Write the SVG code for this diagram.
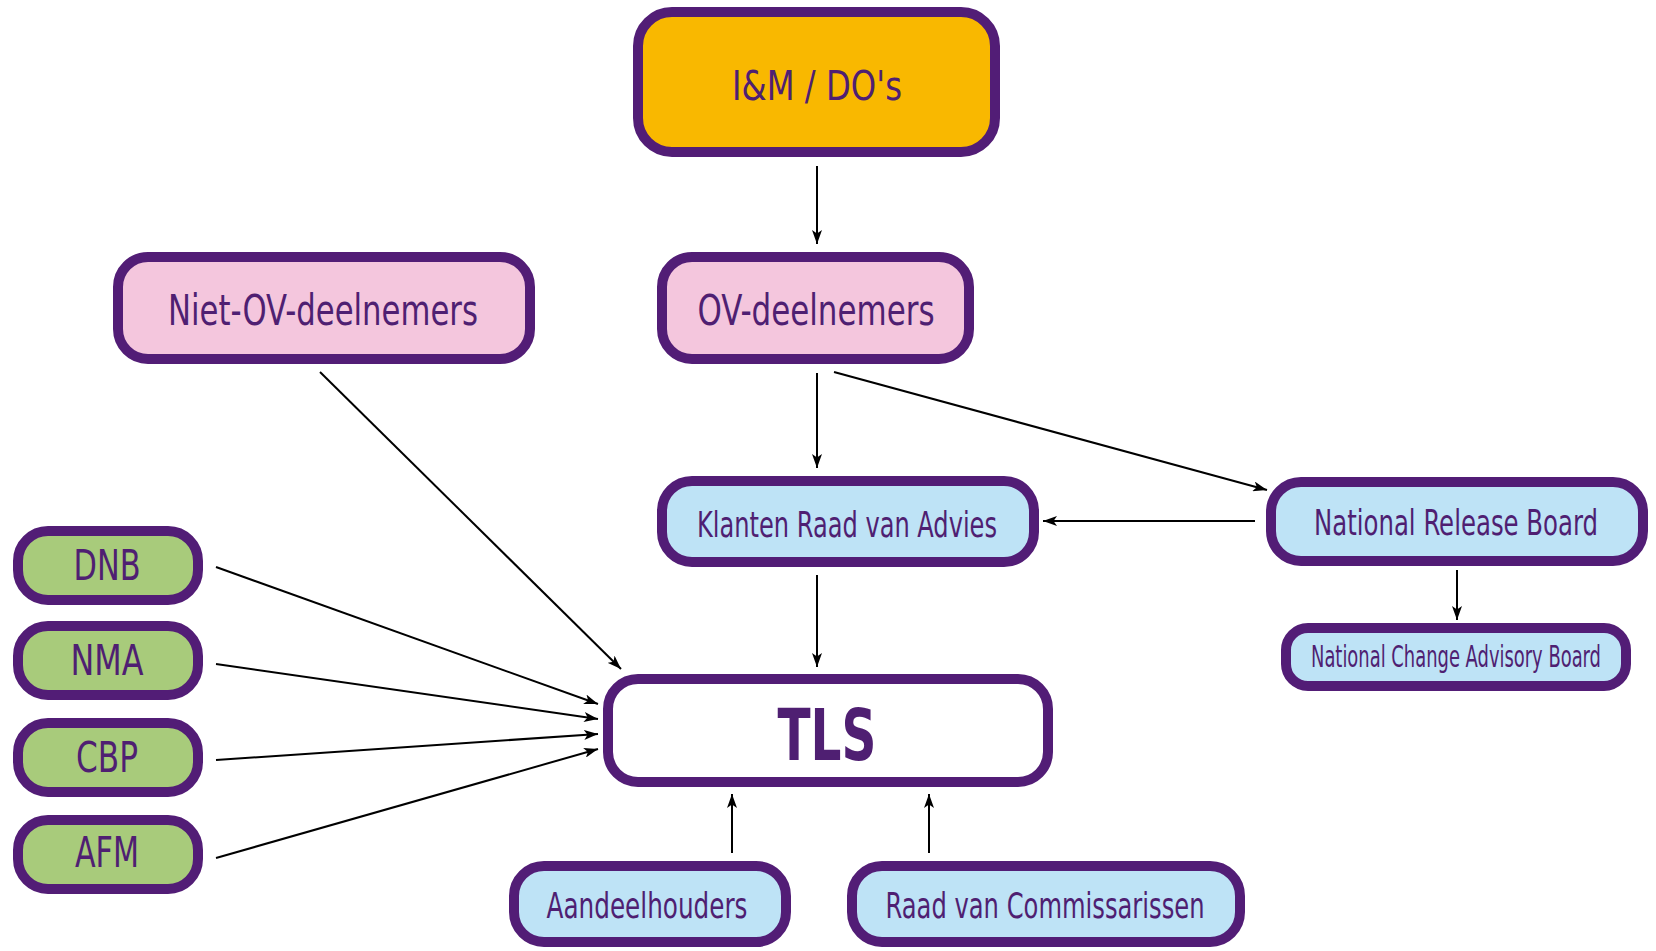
<svg xmlns="http://www.w3.org/2000/svg" width="1656" height="951" viewBox="0 0 1656 951">
<style>
.box{stroke:#521d76;stroke-width:10}
.t{font-family:"Liberation Sans Narrow","DejaVu Sans Condensed","Liberation Sans",sans-serif;fill:#4f1f72;text-anchor:middle}
.c{stroke:#000;stroke-width:2;fill:none;marker-end:url(#ah)}
</style>
<defs>
<marker id="ah" viewBox="0 0 14 10" refX="14" refY="5" markerWidth="14" markerHeight="10" markerUnits="userSpaceOnUse" orient="auto">
<path d="M0,0 L14,5 L0,10 L3.5,5 Z" fill="#000"/>
</marker>
</defs>
<rect width="1656" height="951" fill="#fff"/>
<g id="connectors">
<line class="c" x1="817" y1="166" x2="817" y2="244"/>
<line class="c" x1="817" y1="373" x2="817" y2="468"/>
<line class="c" x1="834" y1="372" x2="1267" y2="490"/>
<line class="c" x1="1255" y1="521" x2="1043" y2="521"/>
<line class="c" x1="1457" y1="570" x2="1457" y2="620"/>
<line class="c" x1="817" y1="575" x2="817" y2="667"/>
<line class="c" x1="320" y1="372" x2="621" y2="669"/>
<line class="c" x1="216" y1="567" x2="598" y2="704"/>
<line class="c" x1="216" y1="664" x2="598" y2="719"/>
<line class="c" x1="216" y1="760" x2="598" y2="734"/>
<line class="c" x1="216" y1="858" x2="598" y2="749"/>
<line class="c" x1="732" y1="853" x2="732" y2="794"/>
<line class="c" x1="929" y1="853" x2="929" y2="794"/>
</g>
<g id="n-im">
<rect class="box" x="638" y="12" width="357" height="140" rx="34" fill="#f9b800"/>
<text class="t" x="817" y="100" font-size="40" textLength="170" lengthAdjust="spacingAndGlyphs">I&amp;M / DO's</text>
</g>
<g id="n-niet">
<rect class="box" x="118" y="257" width="412" height="102" rx="30" fill="#f4c6dd"/>
<text class="t" x="323" y="325" font-size="43" textLength="310" lengthAdjust="spacingAndGlyphs">Niet-OV-deelnemers</text>
</g>
<g id="n-ov">
<rect class="box" x="662" y="257" width="307" height="102" rx="30" fill="#f4c6dd"/>
<text class="t" x="816" y="325" font-size="43" textLength="237" lengthAdjust="spacingAndGlyphs">OV-deelnemers</text>
</g>
<g id="n-kra">
<rect class="box" x="662" y="481" width="372" height="81" rx="30" fill="#bee3f6"/>
<text class="t" x="847" y="537" font-size="35" textLength="300" lengthAdjust="spacingAndGlyphs">Klanten Raad van Advies</text>
</g>
<g id="n-nrb">
<rect class="box" x="1271" y="482" width="372" height="79" rx="30" fill="#bee3f6"/>
<text class="t" x="1456" y="535" font-size="35" textLength="284" lengthAdjust="spacingAndGlyphs">National Release Board</text>
</g>
<g id="n-ncab">
<rect class="box" x="1286" y="628" width="340" height="58" rx="22" fill="#bee3f6" stroke-width="9"/>
<text class="t" x="1456" y="667" font-size="30" textLength="290" lengthAdjust="spacingAndGlyphs">National Change Advisory Board</text>
</g>
<g id="n-dnb">
<rect class="box" x="18" y="531" width="180" height="69" rx="30" fill="#a8cb7b"/>
<text class="t" x="107" y="580" font-size="42" textLength="67" lengthAdjust="spacingAndGlyphs">DNB</text>
</g>
<g id="n-nma">
<rect class="box" x="18" y="626" width="180" height="69" rx="30" fill="#a8cb7b"/>
<text class="t" x="107" y="675" font-size="42" textLength="73" lengthAdjust="spacingAndGlyphs">NMA</text>
</g>
<g id="n-cbp">
<rect class="box" x="18" y="723" width="180" height="69" rx="30" fill="#a8cb7b"/>
<text class="t" x="107" y="772" font-size="42" textLength="62" lengthAdjust="spacingAndGlyphs">CBP</text>
</g>
<g id="n-afm">
<rect class="box" x="18" y="820" width="180" height="69" rx="30" fill="#a8cb7b"/>
<text class="t" x="107" y="867" font-size="42" textLength="64" lengthAdjust="spacingAndGlyphs">AFM</text>
</g>
<g id="n-tls">
<rect class="box" x="608" y="679" width="440" height="103" rx="30" fill="#fff"/>
<text class="t" x="827" y="760" font-size="72" font-weight="bold" textLength="99" lengthAdjust="spacingAndGlyphs">TLS</text>
</g>
<g id="n-aandeel">
<rect class="box" x="514" y="866" width="272" height="76" rx="30" fill="#bee3f6"/>
<text class="t" x="647" y="918" font-size="35" textLength="201" lengthAdjust="spacingAndGlyphs">Aandeelhouders</text>
</g>
<g id="n-rvc">
<rect class="box" x="852" y="866" width="388" height="76" rx="30" fill="#bee3f6"/>
<text class="t" x="1045" y="918" font-size="35" textLength="319" lengthAdjust="spacingAndGlyphs">Raad van Commissarissen</text>
</g>
</svg>
